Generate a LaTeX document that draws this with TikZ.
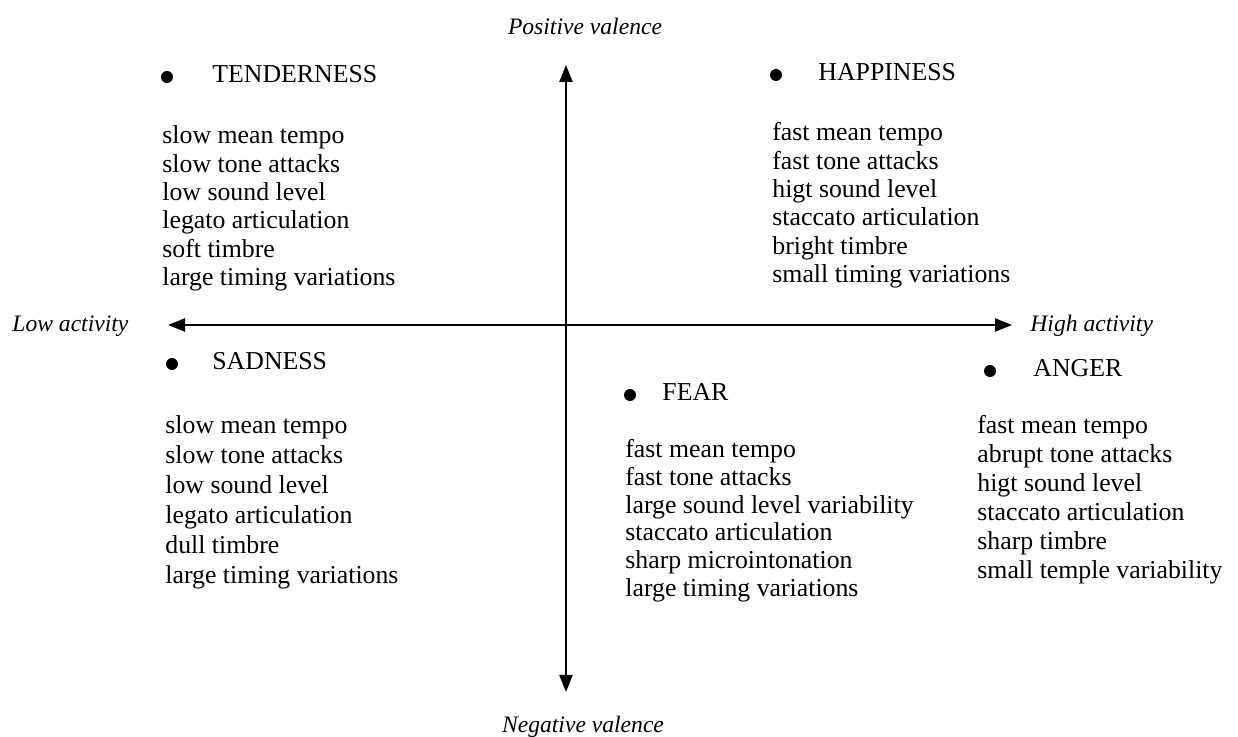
\documentclass[tikz,border=0pt]{standalone}
\usepackage{fontspec}
\setmainfont{Liberation Serif}
\usetikzlibrary{arrows.meta}
\tikzset{
  item/.style={anchor=west, inner sep=0pt, text height=0.7em, text depth=0.22em,
    font=\fontsize{12.9pt}{14pt}\selectfont},
  head/.style={anchor=west, inner sep=0pt, text height=0.7em, text depth=0.22em,
    font=\fontsize{12.9pt}{14pt}\selectfont},
  axlabel/.style={inner sep=0pt, font=\fontsize{11.8pt}{14pt}\selectfont\itshape},
  dot/.style={circle, fill=black, inner sep=0pt, minimum size=6pt},
  axis/.style={line width=1.1pt, {Triangle[length=8.5pt,width=6.5pt]}-{Triangle[length=8.5pt,width=6.5pt]}}
}
\begin{document}
\begin{tikzpicture}[x=0.5pt,y=-0.5pt]
\useasboundingbox (0,0) rectangle (1238,737);
% axes
\coordinate (L) at (168,325);
\coordinate (R) at (1012,325);
\coordinate (T) at (566,65);
\coordinate (B) at (566,692);
\draw[axis] (L) -- (R);
\draw[axis] (T) -- (B);
\node[axlabel, anchor=west] (low) at (12,326) {Low activity};
\node[axlabel, anchor=west] (high) at (1030,326) {High activity};
\node[axlabel] (pos) at (585,26) {Positive valence};
\node[axlabel] (neg) at (583,727) {Negative valence};
% TENDERNESS
\node[dot] (td) at (167,77) {};
\node[head] (th) at (212,78) {TENDERNESS};
\foreach \t [count=\i] in {slow mean tempo, slow tone attacks, low sound level, legato articulation, soft timbre, large timing variations}
  \node[item] (t\i) at (162,{139+28.4*(\i-1)}) {\t};
% HAPPINESS
\node[dot] (hd) at (776,75) {};
\node[head] (hh) at (818,76) {HAPPINESS};
\foreach \t [count=\i] in {fast mean tempo, fast tone attacks, higt sound level, staccato articulation, bright timbre, small timing variations}
  \node[item] (h\i) at (772,{136+28.4*(\i-1)}) {\t};
% SADNESS
\node[dot] (sd) at (172,364) {};
\node[head] (sh) at (212,365) {SADNESS};
\foreach \t [count=\i] in {slow mean tempo, slow tone attacks, low sound level, legato articulation, dull timbre, large timing variations}
  \node[item] (s\i) at (165,{429+30*(\i-1)}) {\t};
% FEAR
\node[dot] (fd) at (630,395) {};
\node[head] (fh) at (662,396) {FEAR};
\foreach \t [count=\i] in {fast mean tempo, fast tone attacks, large sound level variability, staccato articulation, sharp microintonation, large timing variations}
  \node[item] (f\i) at (625,{453+27.7*(\i-1)}) {\t};
% ANGER
\node[dot] (ad) at (990,371) {};
\node[head] (ah) at (1033,372) {ANGER};
\foreach \t [count=\i] in {fast mean tempo, abrupt tone attacks, higt sound level, staccato articulation, sharp timbre, small temple variability}
  \node[item] (a\i) at (977,{429+29*(\i-1)}) {\t};
\end{tikzpicture}
\end{document}
